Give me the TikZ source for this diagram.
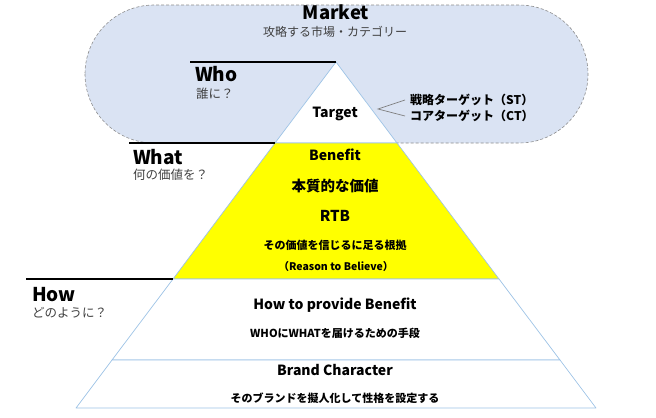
\documentclass[tikz,border=0pt]{standalone}
\usepackage{fontspec}
\setmainfont{Noto Sans CJK JP}
\usetikzlibrary{calc}
\definecolor{mkfill}{HTML}{DAE3F3}
\definecolor{mkline}{HTML}{8C8C8C}
\definecolor{edge}{HTML}{9DC3E6}
\definecolor{benefit}{HTML}{FFFF00}
\definecolor{muted}{HTML}{404040}
\definecolor{tickc}{HTML}{7F7F7F}
\newcommand{\fsz}[1]{\fontsize{#1bp}{#1bp}\selectfont}
\tikzset{
  market/.style={fill=mkfill, draw=mkline, dash pattern=on 3bp off 2bp, line width=0.6pt},
  layer/.style={draw=edge, line width=0.7pt, line join=round},
  rule/.style={draw=black, line width=2pt},
  tick/.style={draw=tickc, line width=0.7pt, solid},
  head/.style={inner sep=0pt, anchor=west, font=\fsz{19}\bfseries},
  sub/.style={inner sep=0pt, anchor=west, text=muted, font=\fsz{12.5}},
  lab/.style={inner sep=0pt, font=\fsz{14}\bfseries},
  labs/.style={inner sep=0pt, font=\fsz{11}\bfseries},
}
\begin{document}
\begin{tikzpicture}[x=1bp, y=-1bp]
  \useasboundingbox (0,0) rectangle (656,417);
  % pyramid corners
  \coordinate (A) at (336,62);
  \coordinate (L1) at (275,143); \coordinate (R1) at (397,143);
  \coordinate (L2) at (173,279); \coordinate (R2) at (499,279);
  \coordinate (L3) at (112,360); \coordinate (R3) at (560,360);
  \coordinate (L4) at (76,408);  \coordinate (R4) at (596,408);
  % market
  \draw[market, rounded corners=69bp] (85,5) rectangle (588,143);
  % layers
  \draw[layer, fill=white] (A)--(R1)--(L1)--cycle;
  \draw[layer, fill=benefit] (L1)--(R1)--(R2)--(L2)--cycle;
  \draw[layer, fill=white] (L2)--(R2)--(R3)--(L3)--cycle;
  \draw[layer, fill=white] (L3)--(R3)--(R4)--(L4)--cycle;
  % rules
  \draw[rule] (190,62) -- (A);
  \draw[rule] (129,143) -- (L1);
  \draw[rule] (26,279) -- (L2);
  % market texts
  \node[inner sep=0pt, font=\fsz{18.5}\bfseries] (mk) at (336,12) {Market};
  \node[inner sep=0pt, text=muted, font=\fsz{12}] (mksub) at (335,32) {攻略する市場・カテゴリー};
  % left headings
  \node[head] (who) at (195,74) {Who};
  \node[sub] (whosub) at (196,94) {誰に？};
  \node[head] (what) at (133,157) {What};
  \node[sub] (whatsub) at (133,175) {何の価値を？};
  \node[head] (how) at (32,295) {How};
  \node[sub] (howsub) at (32,313) {どのように？};
  % target
  \node[lab] (target) at (335,114) {Target};
  \coordinate (tv) at (378,109);
  \node[labs, anchor=west, font=\fsz{12}\bfseries] (st) at (410,100) {戦略ターゲット（ST）};
  \node[labs, anchor=west, font=\fsz{12}\bfseries] (ct) at (410,116) {コアターゲット（CT）};
  \draw[tick] ([xshift=-5bp]st.west) -- (tv) -- ([xshift=-5bp]ct.west);
  % benefit
  \node[lab] (bn) at (335,155) {Benefit};
  \node[lab, font=\fsz{14.5}\bfseries] (bnsub) at (335,186) {本質的な価値};
  \node[lab, font=\fsz{15}\bfseries] (rtb) at (335,216) {RTB};
  \node[labs] (rtbsub) at (335,245) {その価値を信じるに足る根拠};
  \node[labs, font=\fsz{10.5}\bfseries] (rtbeng) at (336,267) {（Reason to Believe）};
  % how
  \node[lab] (hw) at (335,305) {How to provide Benefit};
  \node[labs] (hwsub) at (335,333) {WHOにWHATを届けるための手段};
  \node[lab] (bc) at (335,370) {Brand Character};
  \node[labs] (bcsub) at (335,398) {そのブランドを擬人化して性格を設定する};
\end{tikzpicture}
\end{document}
